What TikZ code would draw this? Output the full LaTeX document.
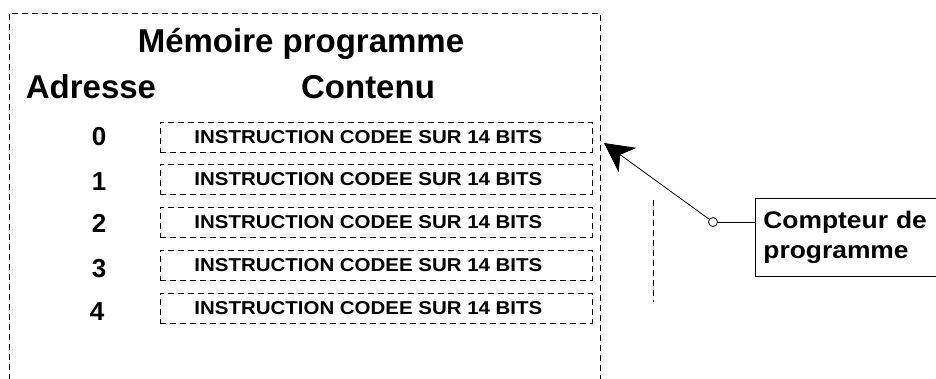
\documentclass[tikz,border=0pt]{standalone}
\usepackage{fontspec}
\setmainfont{Liberation Sans}
\newfontfamily\widefont{Liberation Sans}[FakeStretch=1.1]
\usetikzlibrary{arrows.meta}

\tikzset{
  dashframe/.style={draw, line width=0.8pt, dash pattern=on 6pt off 4pt},
  membox/.style={dashframe, minimum width=432pt, minimum height=30pt, inner sep=0pt,
                 font=\widefont\bfseries\fontsize{18.6}{20}\selectfont,
                 execute at end node=\hspace*{16pt}},
  bigtitle/.style={font=\bfseries\fontsize{33}{36}\selectfont, inner sep=0pt, anchor=base},
  addr/.style={font=\bfseries\fontsize{26}{28}\selectfont, inner sep=0pt, anchor=base},
  counterbox/.style={draw, line width=0.8pt, anchor=north west, minimum width=200pt,
                     minimum height=78pt, text width=184pt, inner sep=8pt, align=left,
                     font=\widefont\bfseries\fontsize{24}{30}\selectfont},
  pinpoint/.style={circle, draw, line width=0.8pt, fill=white, inner sep=0pt, minimum size=9pt},
  thinline/.style={line width=0.8pt},
}

\begin{document}
\begin{tikzpicture}[x=1pt, y=-1pt]
  \useasboundingbox (0,0) rectangle (936,378);
  \clip (0,0) rectangle (936,378);

  % program memory frame, open at the bottom
  \draw[dashframe] (9,400) -- (9,13) -- (600,13) -- (600,400);

  % headings
  \node[bigtitle] (title) at (301,52) {Mémoire programme};
  \node[bigtitle] (hadr) at (91,98) {Adresse};
  \node[bigtitle] (hcont) at (368,98) {Contenu};

  % memory words
  \node[membox, anchor=north west] (w0) at (160,122) {INSTRUCTION CODEE SUR 14 BITS};
  \node[membox, anchor=north west] (w1) at (160,164) {INSTRUCTION CODEE SUR 14 BITS};
  \node[membox, anchor=north west] (w2) at (160,207) {INSTRUCTION CODEE SUR 14 BITS};
  \node[membox, anchor=north west] (w3) at (160,250) {INSTRUCTION CODEE SUR 14 BITS};
  \node[membox, anchor=north west] (w4) at (160,293) {INSTRUCTION CODEE SUR 14 BITS};

  % addresses
  \node[addr] (a0) at (99,145) {0};
  \node[addr] (a1) at (99,190) {1};
  \node[addr] (a2) at (99,232) {2};
  \node[addr] (a3) at (99,277) {3};
  \node[addr] (a4) at (97,320) {4};

  % short dashed marker
  \coordinate (mtop) at (653,200);
  \coordinate (mbot) at (653,302);
  \draw[dashframe] (mtop) -- (mbot);

  % program counter
  \node[counterbox] (pc) at (755,198) {Compteur de\\programme};
  \node[pinpoint] (pin) at (713,222) {};
  \coordinate (tip) at (604,143);
  \draw[thinline] (pin.east) -- (pin.east -| pc.west);
  \draw[thinline, -{Stealth[length=29pt, width=30pt, inset=9pt]}] (pin) -- (tip);
\end{tikzpicture}
\end{document}
